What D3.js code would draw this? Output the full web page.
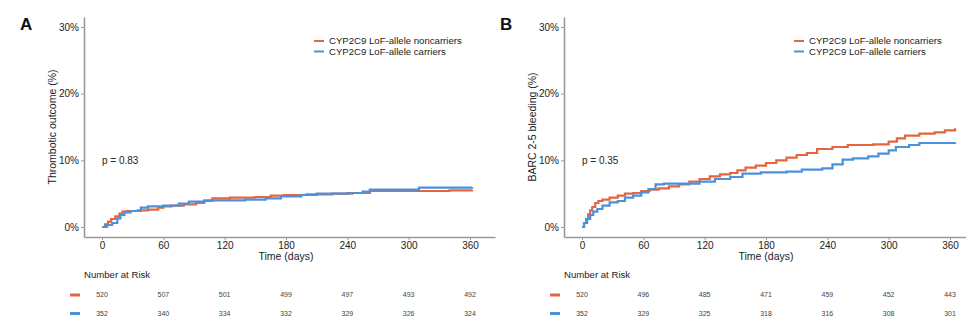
<!DOCTYPE html>
<html>
<head>
<meta charset="utf-8">
<script src="https://cdn.jsdelivr.net/npm/d3@7"></script>
<style>
  body { margin: 0; background: #fff; }
  svg { display: block; font-family: "Liberation Sans", Arial, sans-serif; }
</style>
</head>
<body>
<svg id="chart" width="966" height="322"></svg>
<script>
// tick labels / categories
const timeTicks = [0, 60, 120, 180, 240, 300, 360];
const pctTicks = [0, 10, 20, 30];
const seriesNames = ["CYP2C9 LoF-allele noncarriers", "CYP2C9 LoF-allele carriers"];
const panelLetters = ["A", "B"];
const yLabels = ["Thrombotic outcome (%)", "BARC 2-5 bleeding (%)"];
const pValues = ["p = 0.83", "p = 0.35"];

// panel A: thrombotic outcome
const aNonDays = [0, 3, 6, 9, 13, 17, 20, 24, 35, 45, 55, 60, 68, 80, 92, 100, 108, 125, 150, 165, 178, 200, 225, 245, 262, 300, 340, 362];
const aNonPct  = [0, 0.4, 0.8, 1.2, 1.6, 2.0, 2.3, 2.4, 2.5, 2.6, 2.9, 3.1, 3.2, 3.4, 3.6, 3.9, 4.3, 4.4, 4.5, 4.7, 4.8, 4.9, 5.0, 5.1, 5.4, 5.4, 5.5, 5.6];
const aCarDays = [0, 5, 10, 15, 18, 22, 28, 38, 45, 60, 75, 85, 100, 110, 140, 160, 175, 195, 210, 240, 255, 262, 310, 362];
const aCarPct  = [0, 0.3, 0.6, 1.3, 1.8, 2.2, 2.4, 2.9, 3.1, 3.2, 3.5, 3.8, 4.0, 4.0, 4.1, 4.3, 4.6, 4.8, 5.0, 5.1, 5.3, 5.6, 5.9, 6.0];
const aRiskNon = [520, 507, 501, 499, 497, 493, 492];
const aRiskCar = [352, 340, 334, 332, 329, 326, 324];

// panel B: BARC 2-5 bleeding
const bNonDays = [0, 2, 4, 6, 8, 10, 13, 16, 20, 27, 35, 42, 50, 58, 66, 75, 85, 95, 105, 115, 125, 135, 145, 152, 160, 170, 180, 190, 200, 210, 220, 230, 245, 260, 285, 300, 308, 316, 330, 345, 355, 365];
const bNonPct  = [0, 0.6, 1.2, 1.9, 2.5, 3.0, 3.6, 3.9, 4.1, 4.4, 4.7, 5.0, 5.1, 5.4, 5.6, 5.8, 6.1, 6.4, 6.8, 7.2, 7.6, 7.9, 8.1, 8.5, 8.9, 9.2, 9.6, 10.0, 10.4, 10.8, 11.1, 11.7, 12.0, 12.3, 12.4, 12.8, 13.3, 13.7, 14.0, 14.2, 14.5, 14.8];
const bCarDays = [0, 2, 5, 8, 11, 15, 20, 27, 35, 42, 50, 58, 65, 72, 80, 100, 115, 130, 145, 157, 175, 200, 215, 235, 245, 255, 265, 280, 290, 300, 307, 320, 330, 365];
const bCarPct  = [0, 0.6, 1.2, 1.8, 2.3, 2.7, 3.2, 3.7, 3.9, 4.4, 4.7, 5.2, 5.7, 6.4, 6.5, 6.5, 6.8, 7.2, 7.5, 8.0, 8.2, 8.3, 8.6, 8.8, 9.4, 10.1, 10.3, 10.6, 11.0, 11.5, 12.0, 12.3, 12.6, 12.7];
const bRiskNon = [520, 496, 485, 471, 459, 452, 443];
const bRiskCar = [352, 329, 325, 318, 316, 308, 301];

const colors = ["#e5653f", "#4b91db"];
const axisColor = "#9a9a9a";
const textColor = "#222";

const svg = d3.select("#chart");

const panels = [
  { off: 0, right: 495, series: [[aNonDays, aNonPct], [aCarDays, aCarPct]], risk: [aRiskNon, aRiskCar] },
  { off: 480, right: 966, series: [[bNonDays, bNonPct], [bCarDays, bCarPct]], risk: [bRiskNon, bRiskCar] },
];

panels.forEach((p, i) => {
  const g = svg.append("g").attr("transform", `translate(${p.off},0)`);
  const axisX = 84, axisY = 237;
  const pxPerDay = 368 / 360;
  const x = d3.scaleLinear()
    .domain([-(102 - axisX) / pxPerDay, 360 + (p.right - p.off - 470) / pxPerDay])
    .range([axisX, p.right - p.off]);
  const y = d3.scaleLinear().domain([-1.5, 31.5]).range([axisY, 17]);

  // x axis
  const xa = g.append("g").attr("transform", `translate(0,${axisY})`)
    .call(d3.axisBottom(x).tickValues(timeTicks).tickSize(3).tickSizeOuter(0).tickPadding(2));
  // y axis
  const ya = g.append("g").attr("transform", `translate(${axisX},0)`)
    .call(d3.axisLeft(y).tickValues(pctTicks).tickFormat(d => d + "%").tickSize(3).tickSizeOuter(0).tickPadding(2));
  [xa, ya].forEach(a => {
    a.select(".domain").attr("stroke", axisColor).attr("stroke-width", 1.6);
    a.selectAll(".tick line").attr("stroke", axisColor);
    a.selectAll(".tick text").attr("fill", textColor).attr("font-size", 10)
      .attr("font-family", "Liberation Sans, Arial, sans-serif");
  });

  // curves
  const line = d3.line().x(d => x(d[0])).y(d => y(d[1])).curve(d3.curveStepAfter);
  p.series.forEach((s, k) => {
    const pts = s[0].map((d, j) => [d, s[1][j]]);
    g.append("path").datum(pts)
      .attr("fill", "none").attr("stroke", colors[k]).attr("stroke-width", 2.2)
      .attr("d", line);
  });

  // panel letter
  g.append("text").attr("x", 20).attr("y", 30).attr("font-size", 17).attr("font-weight", "bold")
    .attr("fill", "#111").text(panelLetters[i]);

  // y label
  g.append("text")
    .attr("transform", `translate(56,${y(15)}) rotate(-90)`)
    .attr("text-anchor", "middle").attr("font-size", 10.5).attr("fill", textColor)
    .text(yLabels[i]);

  // p value
  g.append("text").attr("x", x(0)).attr("y", y(10)).attr("dy", "0.35em")
    .attr("font-size", 10).attr("fill", textColor).text(pValues[i]);

  // legend
  seriesNames.forEach((name, k) => {
    const ly = 41 + k * 10.5;
    g.append("line").attr("x1", 314).attr("x2", 324).attr("y1", ly).attr("y2", ly)
      .attr("stroke", colors[k]).attr("stroke-width", 2);
    g.append("text").attr("x", 329).attr("y", ly).attr("dy", "0.35em")
      .attr("font-size", 9.6).attr("fill", textColor).text(name);
  });

  // x title
  g.append("text").attr("x", x(180)).attr("y", 260).attr("text-anchor", "middle")
    .attr("font-size", 10.5).attr("fill", textColor).text("Time (days)");

  // number at risk
  g.append("text").attr("x", axisX).attr("y", 278).attr("font-size", 9.6)
    .attr("fill", textColor).text("Number at Risk");
  p.risk.forEach((row, k) => {
    const ry = 295 + k * 18.5;
    g.append("line").attr("x1", 70).attr("x2", 80).attr("y1", ry).attr("y2", ry)
      .attr("stroke", colors[k]).attr("stroke-width", 3);
    g.selectAll(null).data(row).enter().append("text")
      .attr("x", (d, j) => x(timeTicks[j])).attr("y", ry).attr("dy", "0.35em")
      .attr("text-anchor", "middle").attr("font-size", 7).attr("fill", "#444")
      .text(d => d);
  });
});
</script>
</body>
</html>
